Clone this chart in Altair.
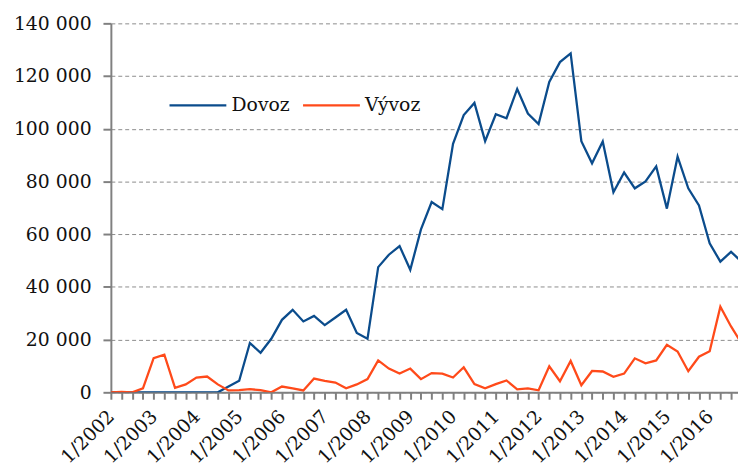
import altair as alt
import pandas as pd

dovoz = [0, 0, 0, 0, 0, 0, 0, 0, 0, 0, 0, 2200, 4400, 18700, 15000, 20300,
         27500, 31300, 26900, 29000, 25500, 28400, 31300, 22500, 20300, 47500,
         52200, 55500, 46500, 61800, 72200, 69500, 94300, 105200, 109800, 95300,
         105500, 104000, 115100, 105800, 101800, 117800, 125300, 128600, 95300,
         86900, 95200, 75900, 83400, 77400, 80000, 85700, 69700, 89400, 77400,
         70900, 56500, 49600, 53300, 49500]
vyvoz = [0, 200, 0, 1500, 13000, 14300, 1700, 3000, 5600, 6000, 3000, 700, 800,
         1200, 800, 0, 2200, 1500, 700, 5200, 4300, 3700, 1500, 3000, 5000, 12100,
         9000, 7100, 9000, 5000, 7300, 7100, 5600, 9500, 3100, 1500, 3100, 4500,
         1100, 1500, 750, 9900, 4200, 11900, 2700, 8100, 7900, 5900, 7100, 12900,
         11000, 12100, 18000, 15500, 8000, 13500, 15600, 32500, 25000, 18500]
series = ["Dovoz", "Vývoz"]
colors = ["#0B4C8C", "#FF4A1A"]

rows = []
for name, vals in zip(series, [dovoz, vyvoz]):
    for i, v in enumerate(vals):
        rows.append({"q": i, "value": v, "series": name})
df = pd.DataFrame(rows)

FONT = "DejaVu Serif"

chart = alt.Chart(df).mark_line(strokeWidth=2.3, clip=True).encode(
    x=alt.X("q:Q",
            scale=alt.Scale(domain=[0, 58.65], nice=False, zero=False),
            axis=alt.Axis(values=list(range(59)), title=None, grid=False,
                          labelExpr="datum.value % 4 == 0 ? '1/' + (2002 + datum.value / 4) : ''",
                          labelAngle=-45, labelAlign="right", labelBaseline="middle",
                          labelPadding=14, tickSize=7, labelOverlap=False,
                          labelFlush=False)),
    y=alt.Y("value:Q",
            scale=alt.Scale(domain=[0, 140000], nice=False),
            axis=alt.Axis(values=list(range(0, 140001, 20000)), title=None,
                          labelExpr="replace(format(datum.value, ',d'), ',', ' ')",
                          tickSize=8, labelPadding=12, gridDash=[4, 3],
                          gridColor="#8c8c8c", gridWidth=1)),
    color=alt.Color("series:N",
                    scale=alt.Scale(domain=series, range=colors),
                    legend=alt.Legend(title=None, orient="none", direction="horizontal",
                                      legendX=58, legendY=53, symbolType="stroke",
                                      symbolSize=3300, symbolStrokeWidth=2.3,
                                      labelFont=FONT, labelFontSize=19,
                                      labelColor="#111111", columnPadding=8,
                                      symbolOffset=0)),
).properties(
    width=634, height=373,
    autosize=alt.AutoSizeParams(type="none"),
    padding={"left": 104, "top": 13, "right": 0, "bottom": 74},
).configure_view(stroke=None).configure_axis(
    labelFont=FONT, labelFontSize=19, labelColor="#111111",
    domainColor="#808080", domainWidth=2, tickColor="#808080", tickWidth=2,
)

chart.save("out.html", embed_options={"renderer": "svg", "actions": False})
